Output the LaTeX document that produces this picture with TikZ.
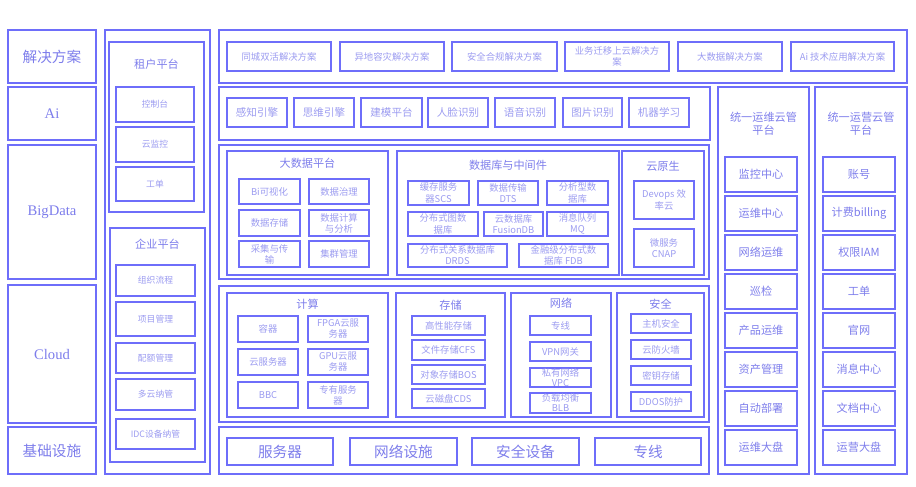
\documentclass[tikz,border=0pt]{standalone}
\usepackage{fontspec}
\setmainfont{Noto Sans CJK SC}
\newfontfamily\latinserif{Liberation Serif}
\definecolor{archline}{RGB}{110,110,250}
\definecolor{archtext}{RGB}{125,125,235}
\definecolor{archsoft}{RGB}{155,155,240}
% box from (x1,y1) to (x2,y2) in pixel units, text centred
\newcommand\archbox[7][cell]{%
  \node[#1, minimum width={(#5-#3)*0.03cm}, minimum height={(#6-#4)*0.03cm}]
    (#2) at ({(#3+#5)/2},{(#4+#6)/2}) {#7};}

\begin{document}
\begin{tikzpicture}[x=0.03cm, y=-0.03cm,
  every node/.style={text=archsoft, font=\fontsize{8}{9.5}\selectfont},
  panel/.style={draw=archline, line width=0.9pt, inner sep=0pt},
  cell/.style={panel, align=center},
  portalcell/.style={cell, font=\fontsize{7.5}{9}\selectfont},
  aicell/.style={cell, font=\fontsize{9}{10}\selectfont},
  tallcell/.style={cell, font=\fontsize{8}{8.5}\selectfont},
  midcell/.style={cell, text=archtext, font=\fontsize{9.5}{11}\selectfont},
  bigcell/.style={cell, text=archtext, font=\fontsize{12.5}{14}\selectfont},
  grouptitle/.style={text=archtext, align=center, inner sep=0pt,
                     font=\fontsize{9.5}{11}\selectfont}]
\useasboundingbox (0,0) rectangle (916,487);

% layer labels on the left
\archbox[bigcell]{sol}{8}{30}{96}{83}{解决方案}
\archbox[bigcell]{ai}{8}{87}{96}{140}{\latinserif Ai}
\archbox[bigcell]{bigdata}{8}{145}{96}{279}{\latinserif BigData}
\archbox[bigcell]{cloud}{8}{285}{96}{423}{\latinserif Cloud}
\archbox[bigcell]{infra}{8}{427}{96}{474}{基础设施}

% portal column
\archbox[panel]{portal}{105}{30}{210}{474}{}
\archbox[panel]{tenant}{109}{42}{204}{212}{}
\node[grouptitle] (tenanttitle) at (156.5,64) {租户平台};
\archbox[portalcell]{console}{116}{87}{194}{122}{控制台}
\archbox[portalcell]{monitor}{116}{127}{194}{162}{云监控}
\archbox[portalcell]{ticket}{116}{167}{194}{201}{工单}
\archbox[panel]{enterprise}{110}{228}{205}{462}{}
\node[grouptitle] (enttitle) at (157.5,244) {企业平台};
\archbox[portalcell]{flow}{116}{265}{195}{296}{组织流程}
\archbox[portalcell]{project}{116}{302}{195}{336}{项目管理}
\archbox[portalcell]{quota}{116}{343}{195}{373}{配额管理}
\archbox[portalcell]{multicloud}{116}{379}{195}{410}{多云纳管}
\archbox[portalcell]{idc}{116}{419}{195}{449}{IDC设备纳管}

% solutions row
\archbox[panel]{solrow}{219}{30}{907}{83}{}
\archbox{sol1}{227}{42}{331}{71}{同城双活解决方案}
\archbox{sol2}{340}{42}{444}{71}{异地容灾解决方案}
\archbox{sol3}{452}{42}{557}{71}{安全合规解决方案}
\archbox{sol4}{565}{42}{669}{71}{业务迁移上云解决方\\案}
\archbox{sol5}{678}{42}{782}{71}{大数据解决方案}
\archbox{sol6}{791}{42}{894}{71}{Ai 技术应用解决方案}

% ai row
\archbox[panel]{airow}{219}{87}{710}{140}{}
\archbox[aicell]{ai1}{227}{98}{287}{127}{感知引擎}
\archbox[aicell]{ai2}{294}{98}{354}{127}{思维引擎}
\archbox[aicell]{ai3}{361}{98}{422}{127}{建模平台}
\archbox[aicell]{ai4}{428}{98}{488}{127}{人脸识别}
\archbox[aicell]{ai5}{495}{98}{555}{127}{语音识别}
\archbox[aicell]{ai6}{563}{98}{622}{127}{图片识别}
\archbox[aicell]{ai7}{629}{98}{689}{127}{机器学习}

% operation and business columns
\archbox[panel]{ops}{718}{87}{809}{474}{}
\node[grouptitle] (opstitle) at (763.5,124) {统一运维云管\\平台};
\foreach \t [count=\i from 0] in {监控中心, 运维中心, 网络运维, 巡检,
                                  产品运维, 资产管理, 自动部署, 运维大盘}
  \node[midcell, minimum width=72*0.03cm, minimum height=35*0.03cm]
    (ops\i) at (761,{174.5+39*\i}) {\t};
\archbox[panel]{biz}{815}{87}{907}{474}{}
\node[grouptitle] (biztitle) at (861,124) {统一运营云管\\平台};
\foreach \t [count=\i from 0] in {账号, 计费billing, 权限IAM, 工单,
                                  官网, 消息中心, 文档中心, 运营大盘}
  \node[midcell, minimum width=72*0.03cm, minimum height=35*0.03cm]
    (biz\i) at (859,{174.5+39*\i}) {\t};

% data platform row
\archbox[panel]{datarow}{219}{145}{709}{279}{}
\archbox[panel]{bdp}{227}{151}{388}{275}{}
\node[grouptitle] (bdptitle) at (307.5,163) {大数据平台};
\archbox{bd1}{239}{179}{300}{204}{Bi可视化}
\archbox{bd2}{309}{179}{369}{204}{数据治理}
\archbox{bd3}{239}{210}{300}{236}{数据存储}
\archbox{bd4}{309}{210}{369}{236}{数据计算\\与分析}
\archbox{bd5}{239}{241}{300}{267}{采集与传\\输}
\archbox{bd6}{309}{241}{369}{267}{集群管理}
\archbox[panel]{dbm}{397}{151}{619}{275}{}
\node[grouptitle] (dbmtitle) at (508,165) {数据库与中间件};
\archbox{db1}{408}{181}{469}{205}{缓存服务\\器SCS}
\archbox{db2}{478}{181}{538}{205}{数据传输\\DTS}
\archbox{db3}{547}{181}{608}{205}{分析型数\\据库}
\archbox{db4}{408}{212}{478}{236}{分布式图数\\据库}
\archbox{db5}{484}{212}{543}{236}{云数据库\\FusionDB}
\archbox{db6}{547}{212}{608}{236}{消息队列\\MQ}
\archbox{db7}{408}{244}{507}{267}{分布式关系数据库\\DRDS}
\archbox{db8}{519}{244}{608}{267}{金融级分布式数\\据库 FDB}
\archbox[panel]{native}{622}{151}{704}{275}{}
\node[grouptitle] (nativetitle) at (663,166) {云原生};
\archbox{devops}{634}{181}{694}{219}{Devops 效\\率云}
\archbox{cnap}{634}{229}{694}{267}{微服务\\CNAP}

% cloud row
\archbox[panel]{cloudrow}{219}{286}{709}{422}{}
\archbox[panel]{compute}{227}{293}{388}{417}{}
\node[grouptitle] (computetitle) at (307.5,304) {计算};
\archbox{cp1}{238}{316}{298}{342}{容器}
\archbox{cp2}{308}{316}{368}{342}{FPGA云服\\务器}
\archbox{cp3}{238}{349}{298}{375}{云服务器}
\archbox{cp4}{308}{349}{368}{375}{GPU云服\\务器}
\archbox{cp5}{238}{382}{298}{408}{BBC}
\archbox{cp6}{308}{382}{368}{408}{专有服务\\器}
\archbox[panel]{storage}{396}{293}{505}{417}{}
\node[grouptitle] (storagetitle) at (450.5,305) {存储};
\archbox{st1}{412}{316}{485}{335}{高性能存储}
\archbox{st2}{412}{340}{485}{360}{文件存储CFS}
\archbox{st3}{412}{365}{485}{384}{对象存储BOS}
\archbox{st4}{412}{389}{485}{408}{云磁盘CDS}
\archbox[panel]{network}{511}{293}{611}{417}{}
\node[grouptitle] (networktitle) at (561,303) {网络};
\archbox{nw1}{530}{316}{591}{335}{专线}
\archbox{nw2}{530}{342}{591}{361}{VPN网关}
\archbox[tallcell]{nw3}{530}{368}{591}{387}{私有网络\\VPC}
\archbox[tallcell]{nw4}{530}{393}{591}{413}{负载均衡\\BLB}
\archbox[panel]{security}{617}{293}{704}{417}{}
\node[grouptitle] (securitytitle) at (660.5,304) {安全};
\archbox{sc1}{631}{314}{691}{333}{主机安全}
\archbox{sc2}{631}{340}{691}{359}{云防火墙}
\archbox{sc3}{631}{366}{691}{385}{密钥存储}
\archbox{sc4}{631}{392}{691}{411}{DDOS防护}

% infrastructure row
\archbox[panel]{infrarow}{219}{427}{709}{474}{}
\archbox[bigcell]{server}{227}{438}{333}{465}{服务器}
\archbox[bigcell]{netdev}{350}{438}{457}{465}{网络设施}
\archbox[bigcell]{secdev}{472}{438}{579}{465}{安全设备}
\archbox[bigcell]{line}{595}{438}{701}{465}{专线}
\end{tikzpicture}
\end{document}
